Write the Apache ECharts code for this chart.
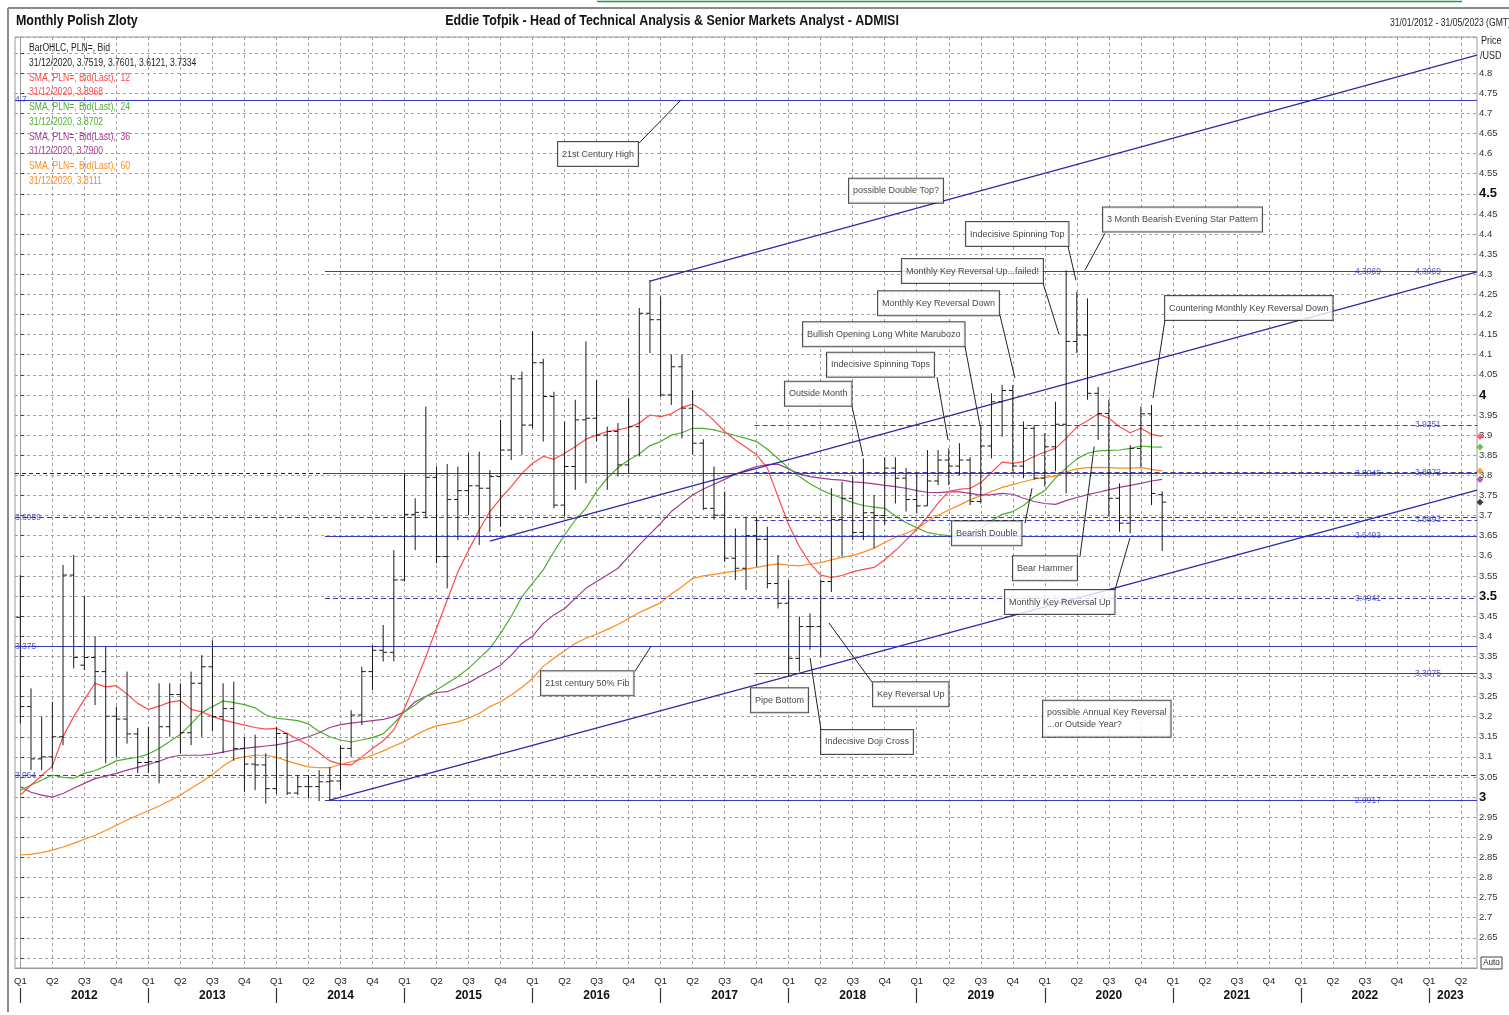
<!DOCTYPE html>
<html><head><meta charset="utf-8">
<script src="https://cdn.jsdelivr.net/npm/echarts@6/dist/echarts.min.js"></script>
<style>html,body{margin:0;padding:0;background:#fff}#c{width:1509px;height:1015px}</style>
</head><body><div id="c"></div>
<script>
// ---------- categories / tick labels ----------
const years = [2012,2013,2014,2015,2016,2017,2018,2019,2020,2021,2022,2023];
const quarterNames = ['Q1','Q2','Q3','Q4'];
const months = [];
years.forEach(y => { for (let m = 1; m <= 12; m++) { if (y === 2023 && m > 5) break; months.push(y + '-' + (m < 10 ? '0' + m : m)); } });

// ---------- OHLC (monthly, Jan 2012 .. Dec 2020) ----------
const opens = [
3.447,3.225,3.095,3.100,3.150,3.552,3.328,3.347,3.312,3.201,3.194,3.157,
3.086,3.088,3.175,3.255,3.160,3.283,3.324,3.200,3.220,3.121,3.082,3.080,
3.021,3.158,3.010,3.026,3.026,3.038,3.040,3.121,3.204,3.312,3.365,3.360,
3.540,3.703,3.708,3.795,3.598,3.740,3.762,3.774,3.768,3.797,3.863,4.040,
3.925,4.080,3.996,3.726,3.822,3.938,3.942,3.900,3.909,3.826,3.921,4.203,
4.187,4.000,4.070,3.967,3.880,3.718,3.701,3.594,3.569,3.650,3.641,3.531,
3.482,3.345,3.424,3.424,3.536,3.690,3.743,3.658,3.707,3.700,3.818,3.793,
3.740,3.724,3.786,3.838,3.823,3.838,3.735,3.873,3.983,4.011,3.823,3.917,
3.793,3.871,3.927,4.133,4.149,4.004,3.954,3.743,3.681,3.867,3.953,3.7519];
const highs = [
3.552,3.270,3.200,3.237,3.577,3.602,3.500,3.399,3.374,3.225,3.312,3.172,
3.175,3.283,3.283,3.283,3.312,3.353,3.390,3.283,3.287,3.150,3.155,3.109,
3.175,3.158,3.055,3.055,3.067,3.075,3.128,3.216,3.324,3.378,3.428,3.614,
3.805,3.743,3.971,3.822,3.828,3.822,3.855,3.859,3.813,3.938,4.050,4.058,
4.158,4.090,4.008,3.934,3.988,4.133,4.037,3.921,3.930,3.992,4.216,4.286,
4.245,4.100,4.100,4.012,3.890,3.822,3.760,3.668,3.697,3.697,3.672,3.602,
3.540,3.449,3.457,3.540,3.768,3.784,3.797,3.842,3.751,3.845,3.845,3.818,
3.805,3.863,3.863,3.867,3.880,3.845,3.925,4.004,4.025,4.025,3.934,3.925,
3.905,3.983,4.310,4.257,4.240,4.020,3.988,3.780,3.875,3.971,3.975,3.7601];
const lows = [
3.183,3.067,3.067,3.070,3.129,3.320,3.316,3.229,3.084,3.100,3.133,3.060,
3.060,3.034,3.150,3.109,3.129,3.150,3.163,3.109,3.090,3.013,3.017,2.984,
3.008,3.005,3.005,2.997,2.990,2.990,3.017,3.100,3.179,3.266,3.337,3.337,
3.536,3.614,3.693,3.581,3.519,3.639,3.701,3.627,3.660,3.672,3.838,3.851,
3.917,3.884,3.718,3.697,3.764,3.780,3.884,3.764,3.797,3.805,3.847,4.104,
3.995,3.975,3.892,3.851,3.714,3.690,3.585,3.540,3.515,3.573,3.519,3.469,
3.300,3.312,3.366,3.349,3.510,3.598,3.639,3.639,3.619,3.677,3.730,3.710,
3.706,3.724,3.776,3.776,3.800,3.726,3.730,3.842,3.896,3.810,3.793,3.789,
3.772,3.810,3.755,4.104,3.988,3.888,3.697,3.660,3.656,3.820,3.726,3.6121];
const closes = [
3.225,3.095,3.100,3.150,3.552,3.347,3.347,3.312,3.201,3.194,3.157,3.086,
3.088,3.175,3.255,3.160,3.283,3.324,3.200,3.220,3.121,3.082,3.080,3.021,
3.158,3.010,3.026,3.026,3.038,3.040,3.121,3.204,3.312,3.365,3.360,3.540,
3.703,3.708,3.795,3.598,3.740,3.762,3.774,3.768,3.797,3.863,4.040,3.925,
4.080,3.996,3.726,3.822,3.938,3.942,3.900,3.909,3.826,3.921,4.203,4.187,
4.000,4.070,3.967,3.880,3.718,3.701,3.594,3.569,3.650,3.641,3.531,3.482,
3.345,3.424,3.424,3.536,3.690,3.743,3.658,3.707,3.700,3.818,3.793,3.740,
3.724,3.786,3.838,3.823,3.838,3.735,3.873,3.983,4.011,3.823,3.917,3.793,
3.871,3.927,4.133,4.149,4.004,3.954,3.743,3.681,3.867,3.953,3.755,3.7334];

// ---------- moving averages ----------
const sma12 = [
3.005,3.030,3.054,3.077,3.150,3.200,3.243,3.283,3.274,3.277,3.256,3.233,
3.218,3.226,3.236,3.240,3.218,3.212,3.200,3.192,3.185,3.179,3.173,3.169,
3.171,3.158,3.144,3.129,3.110,3.090,3.082,3.080,3.100,3.121,3.140,3.167,
3.221,3.283,3.349,3.420,3.490,3.560,3.614,3.664,3.710,3.743,3.772,3.805,
3.830,3.847,3.840,3.855,3.871,3.890,3.900,3.909,3.913,3.919,3.930,3.950,
3.946,3.953,3.969,3.977,3.961,3.936,3.909,3.888,3.870,3.851,3.818,3.747,
3.677,3.623,3.581,3.552,3.546,3.551,3.560,3.566,3.571,3.590,3.613,3.639,
3.666,3.697,3.731,3.760,3.765,3.768,3.782,3.807,3.833,3.830,3.834,3.847,
3.858,3.867,3.892,3.920,3.936,3.953,3.942,3.921,3.906,3.917,3.902,3.8968];
const sma24 = [
3.017,3.030,3.042,3.055,3.049,3.047,3.059,3.066,3.077,3.090,3.095,3.099,
3.107,3.121,3.138,3.156,3.182,3.210,3.225,3.239,3.235,3.230,3.222,3.204,
3.196,3.193,3.190,3.182,3.163,3.150,3.142,3.137,3.142,3.148,3.157,3.183,
3.212,3.229,3.250,3.266,3.283,3.300,3.320,3.345,3.370,3.407,3.449,3.498,
3.532,3.565,3.610,3.652,3.689,3.718,3.760,3.793,3.819,3.838,3.853,3.874,
3.884,3.900,3.906,3.917,3.917,3.913,3.906,3.899,3.892,3.884,3.865,3.842,
3.818,3.797,3.779,3.764,3.753,3.743,3.732,3.725,3.721,3.718,3.699,3.682,
3.670,3.658,3.653,3.650,3.649,3.652,3.668,3.687,3.703,3.710,3.725,3.747,
3.762,3.793,3.818,3.841,3.855,3.861,3.862,3.863,3.867,3.873,3.871,3.8702];
const sma36 = [
3.026,3.012,3.005,3.000,3.009,3.022,3.034,3.046,3.052,3.059,3.067,3.074,
3.081,3.089,3.099,3.104,3.104,3.104,3.107,3.112,3.117,3.121,3.124,3.127,
3.130,3.135,3.142,3.150,3.160,3.173,3.180,3.184,3.187,3.190,3.193,3.200,
3.212,3.237,3.250,3.260,3.262,3.273,3.284,3.299,3.313,3.328,3.353,3.382,
3.400,3.432,3.453,3.469,3.494,3.519,3.536,3.552,3.569,3.598,3.627,3.654,
3.681,3.710,3.731,3.751,3.766,3.778,3.790,3.803,3.813,3.822,3.827,3.828,
3.816,3.803,3.797,3.793,3.790,3.788,3.784,3.782,3.779,3.775,3.772,3.768,
3.762,3.758,3.757,3.759,3.759,3.755,3.751,3.752,3.755,3.753,3.743,3.735,
3.730,3.728,3.737,3.745,3.752,3.758,3.764,3.770,3.775,3.780,3.786,3.7900];
const sma60 = [
2.856,2.858,2.862,2.868,2.876,2.885,2.895,2.905,2.917,2.930,2.943,2.955,
2.966,2.978,2.991,3.005,3.022,3.038,3.056,3.077,3.094,3.100,3.104,3.104,
3.099,3.090,3.082,3.075,3.073,3.073,3.081,3.088,3.094,3.104,3.115,3.127,
3.138,3.154,3.167,3.177,3.182,3.187,3.196,3.208,3.225,3.237,3.254,3.273,
3.295,3.325,3.345,3.364,3.382,3.395,3.405,3.417,3.429,3.444,3.459,3.471,
3.483,3.505,3.523,3.544,3.550,3.554,3.558,3.562,3.567,3.571,3.576,3.580,
3.577,3.575,3.579,3.583,3.590,3.596,3.601,3.609,3.619,3.633,3.646,3.656,
3.668,3.685,3.701,3.714,3.726,3.739,3.750,3.760,3.770,3.777,3.784,3.791,
3.795,3.798,3.809,3.816,3.819,3.820,3.819,3.818,3.818,3.819,3.815,3.8111];

// ---------- drawn levels (value, start month-index) ----------
const levelValues = [4.7335, 4.3069, 3.9251, 3.8045, 3.8072, 3.6959, 3.6893, 3.6493, 3.4941, 3.375, 3.3075, 3.054, 2.9917];
const levelStarts = [-0.5, 28.55, 68.8, 28.55, 68.8, -0.5, 68.8, 28.55, 28.55, -0.5, 68.8, -0.5, 28.55];
const levelDashed = [false, false, true, false, true, true, true, false, true, false, false, true, false];
// level label texts and where they sit (month-index of the label's left edge)
const levelLabelTexts = ['4.7', '4.3069', '4.3069', '3.9251', '3.8045', '3.8072', '3.6959', '3.6893', '3.6493', '3.4941', '3.375', '3.3075', '3.054', '2.9917'];
const levelLabelValues = [4.7335, 4.3069, 4.3069, 3.9251, 3.8045, 3.8072, 3.6959, 3.6893, 3.6493, 3.4941, 3.375, 3.3075, 3.054, 2.9917];
const levelLabelX = [-0.5, 125.06, 130.68, 130.68, 125.06, 130.68, -0.5, 130.68, 125.06, 125.06, -0.5, 130.68, -0.5, 125.06];
// trend lines: [x1, v1, x2, v2]
const trendLines = [
  [59.0, 4.283, 136.5, 4.845],
  [44.0, 3.6365, 136.5, 4.306],
  [29.0, 2.9925, 136.5, 3.763]
];
// annotations: text, [left month-index, centre value]
const noteTexts = ['21st Century High', 'possible Double Top?', 'Indecisive Spinning Top', '3 Month Bearish Evening Star Pattern',
  'Monthly Key Reversal Up...failed!', 'Monthly Key Reversal Down', 'Bullish Opening Long White Marubozo', 'Indecisive Spinning Tops',
  'Outside Month', 'Countering Monthly Key Reversal Down', 'Bearish Double', 'Bear Hammer', 'Monthly Key Reversal Up',
  '21st century 50% Fib', 'Pipe Bottom', 'Key Reversal Up', 'Indecisive Doji Cross', 'possible Annual Key Reversal\n...or Outside Year?'];
const notePos = [[50.38, 4.599], [77.65, 4.508], [88.61, 4.400], [101.45, 4.436], [82.61, 4.308], [80.37, 4.228], [73.34, 4.151],
  [75.59, 4.075], [71.65, 4.003], [107.26, 4.216], [87.30, 3.656], [93.02, 3.569], [92.27, 3.485], [48.79, 3.283], [68.47, 3.241],
  [79.90, 3.256], [75.03, 3.137], [95.83, 3.195]];
// leader lines: [x1, v1, x2, v2]
const leaders = [[57.97, 4.626, 61.9, 4.733], [98.17, 4.370, 98.92, 4.285], [101.64, 4.402, 99.76, 4.310], [95.83, 4.278, 97.33, 4.151],
  [91.8, 4.198, 93.2, 4.042], [88.52, 4.121, 89.92, 3.925], [85.9, 4.044, 86.93, 3.888], [77.93, 3.972, 78.96, 3.848],
  [107.26, 4.186, 106.13, 3.992], [94.14, 3.681, 94.8, 3.768], [99.29, 3.597, 100.63, 3.872], [102.57, 3.515, 103.98, 3.644],
  [57.6, 3.313, 59.1, 3.375], [79.8, 3.286, 75.77, 3.433], [75.03, 3.167, 74.0, 3.346]];
// last values of the series shown as markers on the price axis
const lastValues = [3.8968, 3.8702, 3.8111, 3.7900, 3.7334];

const FONT = "'Liberation Sans',Arial,sans-serif";
const BLUE = '#3a3abf';
const C12 = '#ff4a4a', C24 = '#4cb02a', C36 = '#a03c90', C60 = '#ff8c1e';

const chart = echarts.init(document.getElementById('c'), null, { renderer: 'canvas' });

function renderOHLC(params, api) {
  const x = api.value(0);
  const o = api.coord([x, api.value(1)]);
  const h = api.coord([x, api.value(2)]);
  const l = api.coord([x, api.value(3)]);
  const c = api.coord([x, api.value(4)]);
  const st = { stroke: '#1a1a1a', lineWidth: 1 };
  return { type: 'group', children: [
    { type: 'line', shape: { x1: h[0], y1: h[1], x2: l[0], y2: l[1] }, style: st },
    { type: 'line', shape: { x1: o[0] - 4, y1: o[1], x2: o[0], y2: o[1] }, style: st },
    { type: 'line', shape: { x1: c[0], y1: c[1], x2: c[0] + 4, y2: c[1] }, style: st }
  ] };
}

const ohlcData = opens.map((v, i) => [i, v, highs[i], lows[i], closes[i]]);
const toXY = arr => arr.map((v, i) => [i, v]);

const markLineData = [];
levelValues.forEach((v, k) => {
  markLineData.push([{ coord: [levelStarts[k], v], lineStyle: { color: BLUE, width: 1, type: levelDashed[k] ? [5, 3] : 'solid' } }, { coord: [136.5, v] }]);
});
// dark dashed extension of the 3.80 level on the left
markLineData.push([{ coord: [-0.5, 3.8045], lineStyle: { color: '#202040', width: 1, type: [4, 3] } }, { coord: [28.55, 3.8045] }]);
trendLines.forEach(t => markLineData.push([{ coord: [t[0], t[1]], lineStyle: { color: '#2a2aa8', width: 1.3, type: 'solid' } }, { coord: [t[2], t[3]] }]));
leaders.forEach(t => markLineData.push([{ coord: [t[0], t[1]], lineStyle: { color: '#222', width: 1, type: 'solid' } }, { coord: [t[2], t[3]] }]));

const labelData = levelLabelTexts.map((t, k) => ({ value: [levelLabelX[k], levelLabelValues[k]], label: { formatter: t } }));
const noteData = noteTexts.map((t, k) => ({ value: notePos[k], label: { formatter: t } }));
const diamondColors = [C12, C24, C60, C36, '#111'];
const diamondData = lastValues.map((v, k) => ({ value: [136.78, v], itemStyle: { color: diamondColors[k] } }));

const legendLines = [
  ['BarOHLC, PLN=, Bid', '#222'],
  ['31/12/2020, 3.7519, 3.7601, 3.6121, 3.7334', '#222'],
  ['SMA, PLN=, Bid(Last),  12', C12],
  ['31/12/2020, 3.8968', C12],
  ['SMA, PLN=, Bid(Last),  24', C24],
  ['31/12/2020, 3.8702', C24],
  ['SMA, PLN=, Bid(Last),  36', C36],
  ['31/12/2020, 3.7900', C36],
  ['SMA, PLN=, Bid(Last),  60', C60],
  ['31/12/2020, 3.8111', C60]
];
const graphics = [
  { type: 'line', shape: { x1: 8, y1: 8, x2: 1509, y2: 8 }, style: { stroke: '#8a8a8a', lineWidth: 2 } },
  { type: 'line', shape: { x1: 8, y1: 8, x2: 8, y2: 1012 }, style: { stroke: '#8a8a8a', lineWidth: 2 } },
  { type: 'line', shape: { x1: 597, y1: 1.5, x2: 1462, y2: 1.5 }, style: { stroke: '#1a9a40', lineWidth: 1.5 } },
  { type: 'text', x: 16, y: 21, scaleX: 0.83, style: { text: 'Monthly Polish Zloty', font: 'bold 15px ' + FONT, fill: '#111', textVerticalAlign: 'middle' } },
  { type: 'text', x: 672, y: 21, scaleX: 0.89, style: { text: 'Eddie Tofpik - Head of Technical Analysis & Senior Markets Analyst - ADMISI', font: 'bold 14px ' + FONT, fill: '#111', textAlign: 'center', textVerticalAlign: 'middle' } },
  { type: 'text', x: 1390, y: 23, scaleX: 0.86, style: { text: '31/01/2012 - 31/05/2023 (GMT)', font: '10px ' + FONT, fill: '#222', textVerticalAlign: 'middle' } },
  { type: 'text', x: 1481, y: 41, scaleX: 0.9, style: { text: 'Price', font: '10px ' + FONT, fill: '#222', textVerticalAlign: 'middle' } },
  { type: 'text', x: 1480, y: 56, scaleX: 0.9, style: { text: '/USD', font: '10px ' + FONT, fill: '#222', textVerticalAlign: 'middle' } },
  { type: 'rect', shape: { x: 1481, y: 957, width: 21, height: 12 }, style: { fill: '#fff', stroke: '#444', lineWidth: 1 } },
  { type: 'text', x: 1491.5, y: 963, scaleX: 0.9, style: { text: 'Auto', font: '9px ' + FONT, fill: '#222', textAlign: 'center', textVerticalAlign: 'middle' } }
];
const legendY = [48, 63, 78, 92.5, 107, 122, 137, 151.5, 166, 181];
legendLines.forEach((l, k) => graphics.push({ type: 'text', x: 29, y: legendY[k], scaleX: 0.86, z: 20, style: { text: l[0], font: '10px ' + FONT, fill: l[1], textVerticalAlign: 'middle' } }));

const option = {
  animation: false,
  backgroundColor: '#fff',
  grid: { left: 15, right: 32, top: 37, bottom: 47, show: true, borderColor: '#999', borderWidth: 1, backgroundColor: 'transparent', outerBoundsMode: 'none' },
  xAxis: [
    { type: 'value', min: -0.5, max: 136.5, show: false },
    { type: 'category', data: months, position: 'bottom', boundaryGap: true,
      axisLine: { show: true, lineStyle: { color: '#999' } },
      axisTick: { show: false },
      axisLabel: { interval: (i) => i % 3 === 0, formatter: (v, i) => quarterNames[Math.floor((i % 12) / 3)], fontFamily: FONT, fontSize: 9.5, color: '#222', margin: 8 },
      splitLine: { show: true, interval: (i) => i % 3 === 0, alignWithLabel: true, lineStyle: { color: '#a0a0a0', type: [3, 3], width: 1 } } },
    { type: 'category', data: months, position: 'bottom', offset: 20, boundaryGap: true,
      axisLine: { show: false },
      axisTick: { show: true, interval: (i) => i % 12 === 0, alignWithLabel: true, length: 15, lineStyle: { color: '#333', width: 1.2 } },
      axisLabel: { interval: (i) => i % 12 === 6 || i === 134, formatter: (v) => v.slice(0, 4), fontFamily: FONT, fontSize: 12, fontWeight: 'bold', color: '#111', margin: 2 },
      splitLine: { show: false } }
  ],
  yAxis: {
    type: 'value', position: 'right', min: 2.575, max: 4.89, minInterval: 0.05, maxInterval: 0.05, splitNumber: 46, scale: true,
    axisLine: { show: true, lineStyle: { color: '#999' } },
    axisTick: { show: true, length: 4, lineStyle: { color: '#444' } },
    splitLine: { show: true, lineStyle: { color: '#a0a0a0', type: [3, 3], width: 1 } },
    axisLabel: {
      showMinLabel: false, showMaxLabel: false, margin: 2,
      formatter: (v) => {
        const r = Math.round(v * 100) / 100;
        if (r > 4.82 || r < 2.62) return '';
        const s = String(r);
        return Math.abs(r * 2 - Math.round(r * 2)) < 1e-6 ? '{b|' + s + '}' : '{n|' + s + '}';
      },
      rich: { n: { fontFamily: FONT, fontSize: 9.5, color: '#333' }, b: { fontFamily: FONT, fontSize: 13, fontWeight: 'bold', color: '#111' } }
    }
  },
  graphic: graphics,
  series: [
    { name: 'levels', type: 'line', data: [], xAxisIndex: 0, z: 3,
      markLine: { silent: true, symbol: ['none', 'none'], label: { show: false }, animation: false, data: markLineData } },
    { name: 'SMA60', type: 'line', data: toXY(sma60), xAxisIndex: 0, showSymbol: false, lineStyle: { color: C60, width: 1.2 }, z: 4 },
    { name: 'SMA36', type: 'line', data: toXY(sma36), xAxisIndex: 0, showSymbol: false, lineStyle: { color: C36, width: 1.2 }, z: 4 },
    { name: 'SMA24', type: 'line', data: toXY(sma24), xAxisIndex: 0, showSymbol: false, lineStyle: { color: C24, width: 1.2 }, z: 4 },
    { name: 'SMA12', type: 'line', data: toXY(sma12), xAxisIndex: 0, showSymbol: false, lineStyle: { color: C12, width: 1.2 }, z: 4 },
    { name: 'OHLC', type: 'custom', data: ohlcData, xAxisIndex: 0, renderItem: renderOHLC, encode: { x: 0, y: [1, 2, 3, 4] }, z: 5 },
    { name: 'levelLabels', type: 'scatter', data: labelData, xAxisIndex: 0, symbolSize: 0, z: 6, clip: false,
      label: { show: true, position: 'right', distance: 0, fontFamily: FONT, fontSize: 8.5, color: '#3030b0' } },
    { name: 'notes', type: 'scatter', data: noteData, xAxisIndex: 0, symbolSize: 0, z: 8, clip: false,
      label: { show: true, position: 'right', distance: 0, fontFamily: FONT, fontSize: 9, lineHeight: 12, color: '#111',
        backgroundColor: '#fff', borderColor: '#222', borderWidth: 1, padding: [6, 4, 6, 4] } },
    { name: 'last', type: 'scatter', data: diamondData, xAxisIndex: 0, symbol: 'diamond', symbolSize: 7, z: 9, clip: false }
  ]
};
chart.setOption(option);
</script>
</body></html>
